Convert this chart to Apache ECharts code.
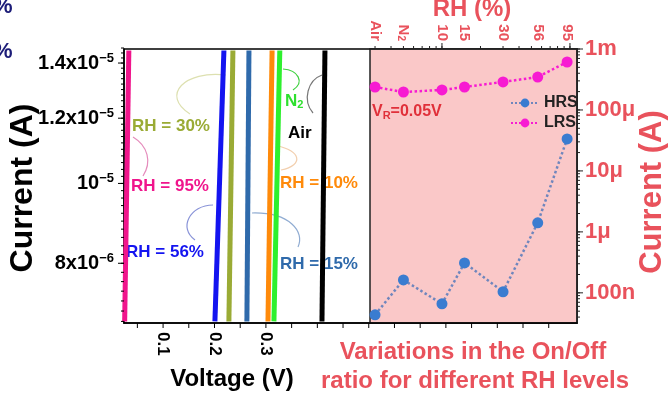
<!DOCTYPE html>
<html>
<head>
<meta charset="utf-8">
<script src="https://cdn.jsdelivr.net/npm/echarts@6/dist/echarts.min.js"></script>
<style>
  html, body { margin: 0; padding: 0; background: #fff; }
  #chart { width: 668px; height: 399px; }
</style>
</head>
<body>
<div id="chart"></div>
<script>
// left panel: I-V sweeps, one near-vertical line per atmosphere
const curveNames = ['RH = 95%', 'RH = 56%', 'RH = 30%', 'RH = 15%', 'RH = 10%', 'N2', 'Air']
const curveColors = ['#f0158c', '#1414f0', '#9aab35', '#2f6aab', '#ff8a0a', '#2ef02e', '#000000']
const voltAtLow = [0.0253, 0.2008, 0.228, 0.263, 0.304, 0.3156, 0.409]
const voltAtHigh = [0.0334, 0.2183, 0.2358, 0.267, 0.312, 0.327, 0.4148]
const currentEnds = [6.8e-6, 1.45e-5]
const leftTickValues = [8e-6, 1e-5, 1.2e-5, 1.4e-5]
const leftTickLabels = ['{m|8x10}{s|\u22126}', '{m|10}{s|\u22125}', '{m|1.2x10}{s|\u22125}', '{m|1.4x10}{s|\u22125}']
const voltTickValues = [0.1, 0.2, 0.3]

// right panel: HRS / LRS current vs RH
const rhLabels = ['Air', 'N2', '10', '15', '30', '56', '95']
const rhPos = [3, 5, 10, 15, 30, 56, 95]
const hrsCurrent = [4.35e-8, 1.63e-7, 6.6e-8, 3.1e-7, 1.04e-7, 1.41e-6, 3.35e-5]
const lrsCurrent = [2.38e-4, 1.97e-4, 2.13e-4, 2.38e-4, 2.88e-4, 3.47e-4, 6.12e-4]
const rightTickValues = [1e-7, 1e-6, 1e-5, 1e-4, 1e-3]
const rightTickLabels = ['100n', '1\u03bc', '10\u03bc', '100\u03bc', '1m']

const RED = '#e9525c'
const FONT = '"Liberation Sans", Arial, sans-serif'

const VOLT_X = [0.024, 0.905]
const LEFT_Y = [6.77e-6, 1.456e-5]
const RIGHT_Y = [3.2e-8, 1e-3]
const RH_X = [2.74, 113.5]

// tick positions (styling only)
const voltMinor = []
for (let v = 0.05; v < 0.9; v += 0.05) voltMinor.push(+v.toFixed(2))
const leftMinor = []
for (let v = 6.8e-6; v < 1.46e-5; v += 2e-7) leftMinor.push(v)
function logMinor(lo, hi) {
  const out = []
  for (let e = -9; e <= 3; e++) {
    for (let k = 1; k <= 9; k++) {
      const v = k * Math.pow(10, e)
      if (v >= lo && v <= hi) out.push(v)
    }
  }
  return out
}

// short tick marks placed through the axes' own scales
function tickSeries(xAxisIndex, yAxisIndex, points, dx, dy, color) {
  return {
    type: 'custom', xAxisIndex, yAxisIndex, silent: true, z: 6, clip: false,
    data: points,
    renderItem: (params, api) => {
      const p = api.coord([api.value(0), api.value(1)])
      return {
        type: 'line',
        shape: { x1: p[0], y1: p[1], x2: p[0] + dx, y2: p[1] + dy },
        style: { stroke: color, lineWidth: 1 }
      }
    }
  }
}

const chart = echarts.init(document.getElementById('chart'), null, { renderer: 'canvas' })

const leftSeries = curveNames.map((name, i) => ({
  name,
  type: 'line',
  xAxisIndex: 0,
  yAxisIndex: 0,
  symbol: 'none',
  clip: true,
  lineStyle: { width: 5, color: curveColors[i] },
  data: [[voltAtLow[i], currentEnds[0]], [voltAtHigh[i], currentEnds[1]]],
  z: 3
}))

function arrow(x1, y1, cx1, cy1, cx2, cy2, x2, y2, color) {
  return {
    type: 'bezierCurve',
    shape: { x1, y1, cpx1: cx1, cpy1: cy1, cpx2: cx2, cpy2: cy2, x2, y2 },
    style: { stroke: color, lineWidth: 1.2, fill: null },
    z: 1
  }
}
function note(x, y, text, color, rich) {
  return {
    type: 'text',
    x, y,
    z: 1,
    style: {
      text, fill: color, font: 'bold 17px ' + FONT,
      verticalAlign: 'middle', rich
    }
  }
}

chart.setOption({
  animation: false,
  grid: [
    { left: 124, right: 91, top: 49, bottom: 76, show: true, borderColor: '#000', borderWidth: 1.5, backgroundColor: 'transparent' },
    { left: 370, right: 91, top: 49, bottom: 76, show: true, borderColor: '#222', borderWidth: 1.5, backgroundColor: '#fac8c8' }
  ],
  xAxis: [
    {
      gridIndex: 0, type: 'value', min: VOLT_X[0], max: VOLT_X[1], position: 'bottom',
      splitLine: { show: false },
      axisLine: { show: true, lineStyle: { color: '#000', width: 1.5 } },
      axisTick: { show: false },
      axisLabel: {
        customValues: voltTickValues, rotate: -90, margin: 9,
        color: '#000', fontWeight: 'bold', fontSize: 17, fontFamily: FONT,
        formatter: v => v.toFixed(1)
      }
    },
    {
      gridIndex: 1, type: 'log', min: RH_X[0], max: RH_X[1], position: 'top',
      splitLine: { show: false },
      axisLine: { show: true, lineStyle: { color: '#222', width: 1.5 } },
      axisTick: { show: false },
      axisLabel: {
        customValues: rhPos, rotate: 90, margin: 8,
        color: RED, fontWeight: 'bold', fontSize: 15, fontFamily: FONT,
        formatter: v => {
          const i = rhPos.findIndex(p => Math.abs(p - v) < 1e-6)
          const t = rhLabels[i]
          return t === 'N2' ? 'N{sub|2}' : t
        },
        rich: { sub: { fontSize: 10, fontWeight: 'bold', color: RED, fontFamily: FONT, verticalAlign: 'bottom' } }
      }
    }
  ],
  yAxis: [
    {
      gridIndex: 0, type: 'log', min: LEFT_Y[0], max: LEFT_Y[1], position: 'left',
      splitLine: { show: false },
      axisLine: { show: true, lineStyle: { color: '#000', width: 1.5 } },
      axisTick: { show: false },
      axisLabel: {
        customValues: leftTickValues, margin: 10,
        formatter: v => leftTickLabels[leftTickValues.findIndex(t => Math.abs(t - v) / t < 1e-6)],
        rich: {
          m: { fontSize: 20, fontWeight: 'bold', color: '#000', fontFamily: FONT },
          s: { fontSize: 13, fontWeight: 'bold', color: '#000', fontFamily: FONT, verticalAlign: 'top', padding: [0, 0, 10, 0] }
        }
      }
    },
    {
      gridIndex: 1, type: 'log', min: RIGHT_Y[0], max: RIGHT_Y[1], position: 'right',
      splitLine: { show: false },
      axisLine: { show: true, lineStyle: { color: '#222', width: 1.5 } },
      axisTick: { show: false },
      axisLabel: {
        customValues: rightTickValues, margin: 8,
        color: RED, fontWeight: 'bold', fontSize: 22, fontFamily: FONT,
        formatter: v => rightTickLabels[rightTickValues.findIndex(t => Math.abs(t - v) / t < 1e-6)]
      }
    }
  ],
  legend: {
    data: ['HRS', 'LRS'],
    orient: 'vertical',
    left: 505, top: 90,
    itemWidth: 28, itemHeight: 11, itemGap: 4,
    textStyle: { color: '#222', fontWeight: 'bold', fontSize: 16, fontFamily: FONT }
  },
  series: [
    ...leftSeries,
    {
      name: 'HRS', type: 'line', xAxisIndex: 1, yAxisIndex: 1,
      symbol: 'circle', symbolSize: 11,
      itemStyle: { color: '#3a7cd0' },
      lineStyle: { type: 'dotted', width: 2.5, color: '#6f86bd' },
      data: rhPos.map((x, i) => [x, hrsCurrent[i]]),
      z: 4
    },
    {
      name: 'LRS', type: 'line', xAxisIndex: 1, yAxisIndex: 1,
      symbol: 'circle', symbolSize: 11,
      itemStyle: { color: '#f71bd2' },
      lineStyle: { type: 'dotted', width: 2.5, color: '#f71bd2' },
      data: rhPos.map((x, i) => [x, lrsCurrent[i]]),
      z: 4
    },
    // axis ticks
    tickSeries(0, 0, voltMinor.map(v => [v, LEFT_Y[0]]), 0, 5, '#000'),
    tickSeries(0, 0, leftTickValues.map(v => [VOLT_X[0], v]), -6, 0, '#000'),
    tickSeries(0, 0, leftMinor.map(v => [VOLT_X[0], v]), -3, 0, '#000'),
    tickSeries(1, 1, rightTickValues.map(v => [RH_X[1], v]), 6, 0, '#222'),
    tickSeries(1, 1, logMinor(RIGHT_Y[0], RIGHT_Y[1]).map(v => [RH_X[1], v]), 3, 0, '#222'),
    tickSeries(1, 1, [10, 100].map(v => [v, RIGHT_Y[1]]), 0, -6, '#222'),
    tickSeries(1, 1, logMinor(RH_X[0], RH_X[1]).map(v => [v, RIGHT_Y[1]]), 0, -3, '#222')
  ],
  graphic: [
    // cut-off text from the neighbouring panel
    { type: 'text', x: -7, y: 7, style: { text: '%', fill: '#1c1c78', font: 'bold 22px ' + FONT, verticalAlign: 'middle' } },
    { type: 'text', x: -7, y: 52, style: { text: '%', fill: '#1c1c78', font: 'bold 22px ' + FONT, verticalAlign: 'middle' } },
    // axis titles
    { type: 'text', x: 23, y: 188, rotation: Math.PI / 2, style: { text: 'Current (A)', fill: '#000', font: 'bold 32px ' + FONT, align: 'center', verticalAlign: 'middle' } },
    { type: 'text', x: 232, y: 379, style: { text: 'Voltage (V)', fill: '#000', font: 'bold 24px ' + FONT, align: 'center', verticalAlign: 'middle' } },
    { type: 'text', x: 472, y: 9, style: { text: 'RH (%)', fill: RED, font: 'bold 24px ' + FONT, align: 'center', verticalAlign: 'middle' } },
    { type: 'text', x: 652, y: 192, rotation: Math.PI / 2, style: { text: 'Current (A)', fill: RED, font: 'bold 31px ' + FONT, align: 'center', verticalAlign: 'middle' } },
    { type: 'text', x: 473, y: 352, style: { text: 'Variations in the On/Off', fill: RED, font: 'bold 24px ' + FONT, align: 'center', verticalAlign: 'middle' } },
    { type: 'text', x: 475, y: 381, style: { text: 'ratio for different RH levels', fill: RED, font: 'bold 24px ' + FONT, align: 'center', verticalAlign: 'middle' } },
    {
      type: 'text', x: 372, y: 112, z: 5,
      style: {
        text: '{b|V}{s|R}{b|=0.05V}', verticalAlign: 'middle',
        rich: {
          b: { fill: '#e0303a', font: 'bold 16px ' + FONT },
          s: { fill: '#e0303a', font: 'bold 11px ' + FONT, verticalAlign: 'bottom', padding: [8, 0, 0, 0] }
        }
      }
    },
    // curve labels
    note(132, 126, 'RH = 30%', '#9aab35'),
    note(131, 186, 'RH = 95%', '#f0158c'),
    note(126, 252, 'RH = 56%', '#1414f0'),
    note(280, 264, 'RH = 15%', '#2f6aab'),
    note(280, 183, 'RH = 10%', '#ff8a0a'),
    note(285, 101, '{n|N}{s|2}', '#2ee02e', {
      n: { fill: '#2ee02e', font: 'bold 17px ' + FONT },
      s: { fill: '#2ee02e', font: 'bold 11px ' + FONT, verticalAlign: 'bottom', padding: [8, 0, 0, 0] }
    }),
    note(288, 133, 'Air', '#000'),
    // arrows
    arrow(190, 114, 160, 95, 185, 70, 226, 75, '#dde0b0'),
    arrow(143, 176, 152, 162, 148, 146, 133, 137, '#e58cbc'),
    arrow(195, 240, 178, 228, 190, 205, 213, 205, '#8a94d8'),
    arrow(298, 247, 305, 232, 290, 212, 252, 213, '#90acd2'),
    arrow(281, 170, 305, 165, 300, 150, 277, 146, '#f2cfae'),
    arrow(293, 90, 305, 82, 298, 70, 283, 69, '#3ed03e'),
    arrow(313, 113, 302, 100, 308, 80, 322, 75, '#777777')
  ]
})
</script>
</body>
</html>
